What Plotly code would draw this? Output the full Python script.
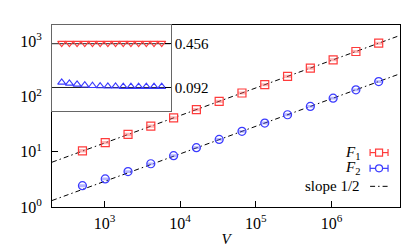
import plotly.graph_objects as go
import numpy as np

# ---- data ----
V = [2**k for k in range(9, 23)]
F1 = [10.45, 14.7, 20.7, 29.2, 41.4, 58.4, 82.5, 116.7, 165.0, 233.5, 330.0, 467.0, 660.0, 934.0]
F2 = [2.44, 3.23, 4.39, 6.08, 8.51, 11.9, 16.8, 23.6, 33.3, 47.1, 66.6, 94.2, 133.2, 188.4]
F1_err = [0.35, 0.45, 0.6, 0.8, 1.1, 1.5, 2.0, 2.8, 4.0, 5.5, 7.5, 10.0, 14.0, 20.0]
F2_err = [0.05, 0.06, 0.08, 0.1, 0.15, 0.2, 0.3, 0.4, 0.6, 0.8, 1.1, 1.5, 2.2, 3.0]
# inset: F / sqrt(V)
R1 = [0.466, 0.465, 0.465, 0.465, 0.465, 0.465, 0.465, 0.465, 0.465, 0.465, 0.465, 0.465, 0.465, 0.465]
R2 = [0.111, 0.107, 0.103, 0.1, 0.098, 0.097, 0.096, 0.096, 0.095, 0.095, 0.095, 0.095, 0.095, 0.095]
fit1, fit2 = 0.456, 0.092
xtick_vals = [1e3, 1e4, 1e5, 1e6]
xtick_text = ["10<sup>3</sup>", "10<sup>4</sup>", "10<sup>5</sup>", "10<sup>6</sup>"]
ytick_vals = [1, 10, 100, 1000]
ytick_text = ["10<sup>0</sup>", "10<sup>1</sup>", "10<sup>2</sup>", "10<sup>3</sup>"]

RED = "#ff3b3b"
BLUE = "#3a3aff"
FONT = "Liberation Serif, Times New Roman, DejaVu Serif, serif"
XR = [2.307, 6.904]
YR = [0.0, 3.3]
IXR = [2.33, 6.973]
IYR = [-1.403, -0.044]

fig = go.Figure()

# slope 1/2 fit lines across full x range
vline = [10**XR[0], 10**XR[1]]
for a in (fit1, fit2):
    fig.add_trace(go.Scatter(x=vline, y=[a*np.sqrt(v) for v in vline], mode="lines",
                             line=dict(color="black", width=1, dash="5px,3px,1.5px,3px"),
                             showlegend=False, hoverinfo="skip"))

fig.add_trace(go.Scatter(x=V, y=F1, mode="markers",
                         marker=dict(symbol="square-open", size=8, color=RED, line=dict(width=1.2)),
                         error_y=dict(type="data", array=F1_err, color="rgba(255,90,90,0.45)", thickness=2, width=4),
                         showlegend=False))
fig.add_trace(go.Scatter(x=V, y=F2, mode="markers",
                         marker=dict(symbol="circle-open", size=8, color=BLUE, line=dict(width=1.2)),
                         error_y=dict(type="data", array=F2_err, color="rgba(90,90,255,0.45)", thickness=2, width=4),
                         showlegend=False))

# inset
for a in (fit1, fit2):
    fig.add_trace(go.Scatter(x=[10**IXR[0], 10**IXR[1]], y=[a, a], mode="lines",
                             line=dict(color="#222", width=1), xaxis="x2", yaxis="y2",
                             showlegend=False, hoverinfo="skip"))
fig.add_trace(go.Scatter(x=V, y=R1, mode="markers", xaxis="x2", yaxis="y2",
                         marker=dict(symbol="triangle-down-open", size=7, color=RED, line=dict(width=1.1)),
                         showlegend=False))
fig.add_trace(go.Scatter(x=V, y=R2, mode="markers", xaxis="x2", yaxis="y2",
                         marker=dict(symbol="triangle-up-open", size=7, color=BLUE, line=dict(width=1.1)),
                         showlegend=False))

W, H = 415, 249
L, R, T, B = 43, 23, 17, 47
pw, ph = W - L - R, H - T - B
inset_x1 = (162 - L) / pw
inset_y0 = (202 - 104) / ph

shapes = [dict(type="rect", xref="paper", yref="paper", x0=0, x1=inset_x1, y0=inset_y0, y1=1,
               fillcolor="white", line=dict(width=0), layer="below")]
annotations = []

# manual legend (symbols right of text)
rows = [("<i>F</i><sub>1</sub>", 146.7, RED, "square"),
        ("<i>F</i><sub>2</sub>", 162.7, BLUE, "circle"),
        ("slope 1/2", 181.0, "black", "line")]
sx0, sx1 = (362 - L) / pw, (380 - L) / pw
sxc = (371 - L) / pw
for text, ypx, col, kind in rows:
    yp = (202 - ypx) / ph
    annotations.append(dict(text=text, x=(354 - L) / pw, y=yp, xref="paper", yref="paper",
                            xanchor="right", yanchor="middle", showarrow=False,
                            font=dict(family=FONT, size=15, color="black")))
    if kind == "line":
        shapes.append(dict(type="line", xref="paper", yref="paper", x0=sx0, x1=sx1, y0=yp, y1=yp,
                           line=dict(color="black", width=1, dash="5px,3px,1.5px,3px")))
    else:
        shapes.append(dict(type="line", xref="paper", yref="paper", x0=sx0, x1=sx1, y0=yp, y1=yp,
                           line=dict(color=col, width=1.2)))
        for xe in (sx0, sx1):
            shapes.append(dict(type="line", xref="paper", yref="paper", x0=xe, x1=xe,
                               ysizemode="pixel", yanchor=yp, y0=-3.5, y1=3.5,
                               line=dict(color=col, width=1.2)))
        shapes.append(dict(type="rect" if kind == "square" else "circle", xref="paper", yref="paper",
                           xsizemode="pixel", ysizemode="pixel", xanchor=sxc, yanchor=yp,
                           x0=-3.5, x1=3.5, y0=-3.5, y1=3.5, fillcolor="white",
                           line=dict(color=col, width=1.2)))

fig.update_layout(
    width=W, height=H, margin=dict(l=L, r=R, t=T, b=B),
    plot_bgcolor="white", paper_bgcolor="white",
    font=dict(family=FONT, size=15, color="black"),
    xaxis=dict(type="log", range=XR, tickvals=xtick_vals, ticktext=xtick_text,
               ticks="inside", ticklen=6, tickcolor="black", showline=True, linecolor="black",
               linewidth=1, mirror=True, showgrid=False, zeroline=False,
               tickfont=dict(family=FONT, size=16), ticklabelstandoff=2,
               title=dict(text="<i>V</i>", standoff=2, font=dict(family=FONT, size=15))),
    yaxis=dict(type="log", range=YR, tickvals=ytick_vals, ticktext=ytick_text,
               ticks="inside", ticklen=6, tickcolor="black", showline=True, linecolor="black",
               linewidth=1, mirror=True, showgrid=False, zeroline=False,
               tickfont=dict(family=FONT, size=16), ticklabelstandoff=6),
    xaxis2=dict(type="log", range=IXR, domain=[0, inset_x1], anchor="y2", showticklabels=False,
                ticks="", showline=True, linecolor="#666", linewidth=1, mirror=True,
                showgrid=False, zeroline=False),
    yaxis2=dict(type="log", range=IYR, domain=[inset_y0, 1], anchor="x2", side="right",
                tickvals=[fit1, fit2], ticktext=["0.456", "0.092"], ticks="inside", ticklen=6,
                tickcolor="black", showline=True, linecolor="#666", linewidth=1, mirror=True,
                showgrid=False, zeroline=False, tickfont=dict(family=FONT, size=15),
                ticklabelstandoff=0),
    shapes=shapes, annotations=annotations, showlegend=False,
)

fig.write_html("out.html")
